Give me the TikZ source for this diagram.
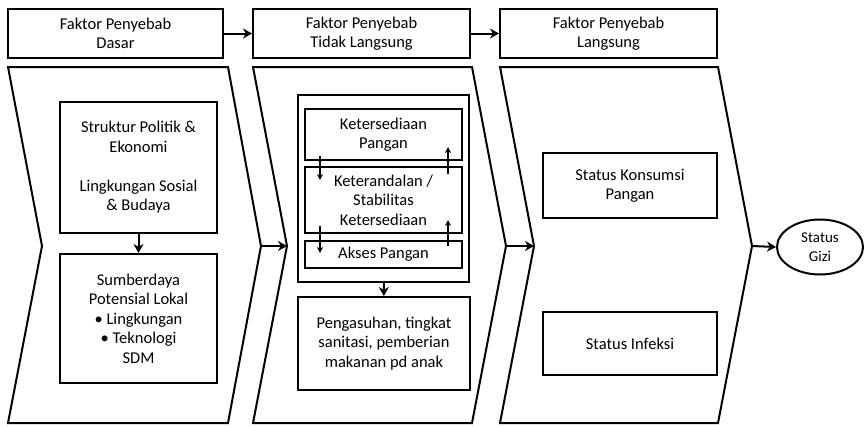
\documentclass[tikz,border=0pt]{standalone}
\usepackage{fontspec}
\setmainfont{Carlito}
\usetikzlibrary{arrows.meta,shapes.geometric}
\begin{document}
\begin{tikzpicture}[x=1pt,y=-1pt,
  lw/.style={line width=2pt},
  box/.style={draw,lw,rectangle,align=center,inner sep=2pt,
    font=\fontsize{16.5}{19.5}\selectfont},
  chev/.style={draw,lw,line join=miter},
  conn/.style={lw,-{Stealth[length=9pt,width=10pt]}},
  small/.style={line width=1.2pt,-{Stealth[length=6pt,width=6pt]}}]
\useasboundingbox (0,0) rectangle (866,426);
% header boxes
\node[box,minimum width=215pt,minimum height=49pt] (h1) at (115.5,33.5) {Faktor Penyebab\\Dasar};
\node[box,minimum width=217pt,minimum height=49pt] (h2) at (361.5,33.5) {Faktor Penyebab\\Tidak Langsung};
\node[box,minimum width=217pt,minimum height=49pt] (h3) at (608.5,33.5) {Faktor Penyebab\\Langsung};
\draw[conn] (h1) -- (h2);
\draw[conn] (h2) -- (h3);
% chevrons
\coordinate (c1n) at (42,246); \coordinate (c1t) at (261,246);
\coordinate (c2n) at (287,246); \coordinate (c2t) at (506,246);
\coordinate (c3n) at (534,246); \coordinate (c3t) at (752,246);
\draw[chev] (8,67) -- (228,67) -- (c1t) -- (228,423) -- (8,423) -- (c1n) -- cycle;
\draw[chev] (253,67) -- (472,67) -- (c2t) -- (472,423) -- (253,423) -- (c2n) -- cycle;
\draw[chev] (500,67) -- (718,67) -- (c3t) -- (718,423) -- (500,423) -- (c3n) -- cycle;
\node[box,ellipse,minimum width=86pt,minimum height=55pt,inner sep=0pt,font=\fontsize{15}{19}\selectfont] (gizi) at (820,247) {Status\\Gizi};
\draw[conn] (c1t) -- (c2n);
\draw[conn] (c2t) -- (c3n);
\draw[conn] (c3t) -- (gizi.west);
% chevron 1
\node[box,minimum width=157pt,minimum height=131pt] (a) at (138.5,167.5)
  {Struktur Politik \&\\Ekonomi\\[19.5pt]Lingkungan Sosial\\\& Budaya};
\node[box,minimum width=157pt,minimum height=129pt] (b) at (138.5,318.5)
  {Sumberdaya\\Potensial Lokal\\\textbullet\ Lingkungan\\\textbullet\ Teknologi\\SDM};
\draw[conn] (a) -- (b);
% chevron 2
\node[draw,lw,minimum width=171pt,minimum height=187pt] (outer) at (383.5,188.5) {};
\node[box,minimum width=157pt,minimum height=51pt] (k1) at (383.5,134.5) {Ketersediaan\\Pangan};
\node[box,minimum width=157pt,minimum height=66pt] (k2) at (383.5,200) {Keterandalan /\\Stabilitas\\Ketersediaan};
\node[box,minimum width=157pt,minimum height=27pt,inner sep=0pt] (k3) at (383.5,254.5) {Akses Pangan};
\node[box,minimum width=172pt,minimum height=93pt] (p) at (384,343.5)
  {Pengasuhan, tingkat\\sanitasi, pemberian\\makanan pd anak};
\draw[conn] (outer) -- (p);
\coordinate (d1s) at (320,156); \coordinate (d1e) at (320,180);
\coordinate (d2s) at (320,226); \coordinate (d2e) at (320,253);
\coordinate (u1s) at (448,174); \coordinate (u1e) at (448,147);
\coordinate (u2s) at (448,246); \coordinate (u2e) at (448,220);
\draw[small] (d1s) -- (d1e);
\draw[small] (d2s) -- (d2e);
\draw[small] (u1s) -- (u1e);
\draw[small] (u2s) -- (u2e);
% chevron 3
\node[box,minimum width=174pt,minimum height=65pt] (s1) at (630,185.5) {Status Konsumsi\\Pangan};
\node[box,minimum width=174pt,minimum height=63pt] (s2) at (630,343.5) {Status Infeksi};
\end{tikzpicture}
\end{document}
